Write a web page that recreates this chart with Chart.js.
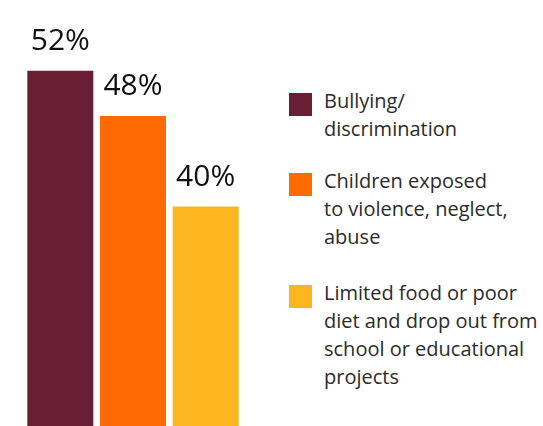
<!DOCTYPE html>
<html>
<head>
<meta charset="utf-8">
<script src="https://cdn.jsdelivr.net/npm/chart.js@4"></script>
<style>
  html, body { margin: 0; padding: 0; background: #fff; }
  body { width: 543px; height: 426px; position: relative; overflow: hidden; font-family: "Open Sans", sans-serif; }
  #chartBox { position: absolute; left: 0; top: 0; width: 266px; height: 426px; }
  .item { position: absolute; left: 289px; }
  .swatch { position: absolute; left: 0; width: 23px; height: 23px; top: 6px; }
  .txt { position: absolute; left: 35px; top: 0; font-size: 20px; line-height: 28px; color: #2b2b2b; white-space: nowrap; }
</style>
</head>
<body>
<div id="chartBox"><canvas id="chartCanva"></canvas></div>
<div id="legend"></div>
<script>
    var categories = ['Bullying/discrimination', 'Children exposed to violence, neglect, abuse', 'Limited food or poor diet and drop out from school or educational projects'];
    var legendLines = [
        ['Bullying/', 'discrimination'],
        ['Children exposed', 'to violence, neglect,', 'abuse'],
        ['Limited food or poor', 'diet and drop out from', 'school or educational', 'projects']
    ];
    var values = [52, 48, 40];
    var colors = ['#6a1e33', '#ff6a00', '#fdb51f'];
    var legendTops = [87, 167, 279];

    // legend as html, next to the chart
    var legend = document.getElementById('legend');
    legendLines.forEach(function(lines, i) {
        var item = document.createElement('div');
        item.className = 'item';
        item.style.top = legendTops[i] + 'px';
        item.innerHTML = '<div class="swatch" style="background:' + colors[i] + '"></div>' +
                         '<div class="txt">' + lines.join('<br>') + '</div>';
        legend.appendChild(item);
    });

    const valueLabels = {
        id: 'valueLabels',
        afterDatasetsDraw(chart) {
            const ctx = chart.ctx;
            const meta = chart.getDatasetMeta(0);
            ctx.save();
            ctx.font = '30px "Open Sans"';
            ctx.fillStyle = '#111111';
            ctx.textAlign = 'center';
            ctx.textBaseline = 'alphabetic';
            meta.data.forEach(function(bar, i) {
                ctx.fillText(values[i] + '%', bar.x, bar.y - 21);
            });
            ctx.restore();
        }
    };

    const data = {
        labels: categories,
        datasets: [{
            data: values,
            backgroundColor: colors,
            borderWidth: 0,
            barPercentage: 0.908,
            categoryPercentage: 1
        }]
    };

    const config = {
        type: 'bar',
        data: data,
        options: {
            responsive: true,
            maintainAspectRatio: false,
            animation: false,
            layout: { padding: { left: 24, right: 24, top: 30, bottom: 0 } },
            plugins: {
                legend: { display: false },
                tooltip: { enabled: false }
            },
            scales: {
                x: { display: false },
                y: { display: false, min: 20.6, max: 55.6 }
            }
        },
        plugins: [valueLabels]
    };

    new Chart(document.getElementById('chartCanva'), config);
</script>
</body>
</html>
